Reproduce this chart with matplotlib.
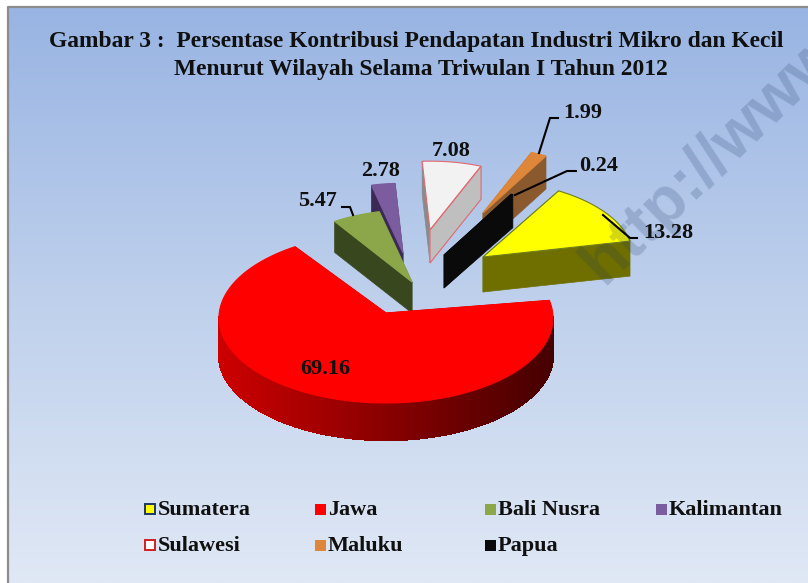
import numpy as np
import matplotlib
matplotlib.use("Agg")
import matplotlib.pyplot as plt
from matplotlib.patches import Polygon, Rectangle

# --- data -------------------------------------------------------------
categories = ["Sumatera", "Jawa", "Bali Nusra", "Kalimantan", "Sulawesi", "Maluku", "Papua"]
values = [13.28, 69.16, 5.47, 2.78, 7.08, 1.99, 0.24]
title_lines = ["Gambar 3 :  Persentase Kontribusi Pendapatan Industri Mikro dan Kecil",
               "Menurut Wilayah Selama Triwulan I Tahun 2012"]

# --- styling / layout ---------------------------------------------------
top_colors = ["#FFFF00", "#FF0000", "#8CA74A", "#7B5C9E", "#F2F2F2", "#DE8639", "#0A0A0A"]
side_colors = ["#6F6F00", "#8B0000", "#39471E", "#3A2A55", "#BFBFBF", "#8A5A2E", "#0A0A0A"]
left_face_colors = ["#6F6F00", "#8B0000", "#39471E", "#3A2A55", "#8A8A8A", "#8A5A2E", "#0A0A0A"]
edge_colors = ["#6E7F20", "#FF0000", "#8CA74A", "#7B5C9E", "#E06A70", "#DE8639", "#0A0A0A"]
swatch_edges = ["#1F3864", "none", "none", "none", "#D02020", "none", "none"]
swatch_fill = ["#FFFF00", "#FF0000", "#8CA74A", "#7B5C9E", "#FFFFFF", "#DE8639", "#0A0A0A"]
explode_dx = [97, 0, 26, 17, 44, 97, 58]
explode_dy = [-61, 0, -36, -65, -88, -105, -63]
radius_scale = [0.90, 1.0, 0.85, 0.82, 0.81, 0.77, 0.82]
depths = [35, 37, 31, 28, 33, 33, 33]
apex_shift_y = [0, -5, 0, 0, 0, 0, 0]
draw_order = [5, 4, 3, 2, 6, 0, 1]
rotation = 59.8
cx, cy, rx, ry = 386, 318, 167, 85

label_pos = [(668, 233), (325, 369), (317, 201), (381, 171), (451, 151), (583, 113), (599, 166)]
leaders = {0: [(603, 215), (630, 238), (637, 238)],
           2: [(353, 215), (350, 207), (342, 207)],
           5: [(539, 153), (550, 118), (558, 118)],
           6: [(515, 195), (567, 171), (576, 171)]}
legend_swatch_x = [150, 320, 490, 661, 150, 320, 490]
legend_y = [510, 510, 510, 510, 546, 546, 546]

SERIF = "Liberation Serif"

fig = plt.figure(figsize=(8.08, 5.83), dpi=100, facecolor="white")
ax = fig.add_axes([0, 0, 1, 1])
ax.set_xlim(0, 808)
ax.set_ylim(583, 0)
ax.axis("off")

# background gradient and frame
grad = np.linspace(0, 1, 256).reshape(-1, 1, 1)
c0 = np.array([0x99, 0xB4, 0xE3]) / 255
c1 = np.array([0xBE, 0xD0, 0xEC]) / 255
c2 = np.array([0xE0, 0xE8, 0xF5]) / 255
bg = np.where(grad < 0.5, c0 + (c1 - c0) * grad / 0.5, c1 + (c2 - c1) * (grad - 0.5) / 0.5)
ax.imshow(bg, extent=(8, 808, 583, 7), aspect="auto", zorder=0, interpolation="bilinear")
ax.plot([8, 8, 808], [583, 7, 7], color="#8C8C8C", lw=1.6, zorder=1)
ax.set_xlim(0, 808)
ax.set_ylim(583, 0)

# slices
edges = rotation - np.cumsum([0] + values) * 3.6


def rim(a0, a1, ox, oy, r, n=120):
    t = np.radians(np.linspace(a0, a1, n))
    return np.column_stack([cx + ox + r * rx * np.cos(t), cy + oy - r * ry * np.sin(t)])


z = 2.0
for i in draw_order:
    a0, a1 = edges[i], edges[i + 1]
    ox, oy, r, d = explode_dx[i], explode_dy[i], radius_scale[i], depths[i]
    apex = np.array([cx + ox, cy + oy + apex_shift_y[i]])
    pts = rim(a0, a1, ox, oy, r, n=max(8, int(abs(a1 - a0) * 2)))
    down = np.array([0, d])
    # cut faces
    ax.add_patch(Polygon([apex, pts[0], pts[0] + down, apex + down], closed=True,
                         fc=left_face_colors[i], ec=left_face_colors[i], lw=0.5, zorder=z))
    ax.add_patch(Polygon([apex, pts[-1], pts[-1] + down, apex + down], closed=True,
                         fc=side_colors[i], ec=side_colors[i], lw=0.5, zorder=z))
    z += 0.01
    # outer rim, front part only
    for j in range(len(pts) - 1):
        mid = np.radians(a0 + (a1 - a0) * (j + 0.5) / (len(pts) - 1))
        if np.sin(mid) < 0.02:
            if i == 1:
                frac = (pts[j, 0] - (cx - rx)) / (2 * rx)
                col = np.array([0.80, 0, 0]) * (1 - frac) + np.array([0.27, 0, 0]) * frac
            else:
                col = side_colors[i]
            q = [pts[j], pts[j + 1], pts[j + 1] + down, pts[j] + down]
            ax.add_patch(Polygon(q, closed=True, fc=col, ec=col, lw=1.0, antialiased=False, zorder=z))
    z += 0.01
    # top surface
    ax.add_patch(Polygon(np.vstack([apex, pts]), closed=True, fc=top_colors[i],
                         ec=edge_colors[i], lw=0.8, zorder=z))
    z += 0.01
    # Sulawesi outline on the right-hand face
    if i == 4:
        p = pts[-1]
        ax.add_patch(Polygon([apex, p, p + down, apex + down], closed=True, fc="none",
                             ec=edge_colors[i], lw=0.8, zorder=z))

# leader lines
for i, pl in leaders.items():
    xs, ys = zip(*pl)
    ax.plot(xs, ys, color="black", lw=1.5, zorder=8, solid_joinstyle="miter")

# value labels
for v, (x, y) in zip(values, label_pos):
    ax.text(x, y, f"{v:.2f}", ha="center", va="center", family=SERIF, weight="bold",
            fontsize=16, color="#101010", zorder=9)

# watermark
ax.text(711, 158, "http://www", rotation=44, ha="center", va="center", family="Liberation Sans",
        weight="bold", fontsize=47, color="#1F3864", alpha=0.2, zorder=7, rotation_mode="anchor",
        clip_on=True)

# title
ax.text(416, 42, title_lines[0], ha="center", va="center", family=SERIF, weight="bold",
        fontsize=16.9, color="#101010", zorder=9)
ax.text(421, 70, title_lines[1], ha="center", va="center", family=SERIF, weight="bold",
        fontsize=16.9, color="#101010", zorder=9)

# legend
for name, sx, sy, fc, ec in zip(categories, legend_swatch_x, legend_y, swatch_fill, swatch_edges):
    s = 10 if ec != "none" else 11
    ax.add_patch(Rectangle((sx - s / 2, sy - 1 - s / 2), s, s, fc=fc, ec=ec,
                           lw=1.4 if ec != "none" else 0, zorder=9))
    ax.text(sx + 8, sy, name, ha="left", va="center", family=SERIF, weight="bold",
            fontsize=16, color="#101010", zorder=9)

fig.savefig("out.png", dpi=100)
